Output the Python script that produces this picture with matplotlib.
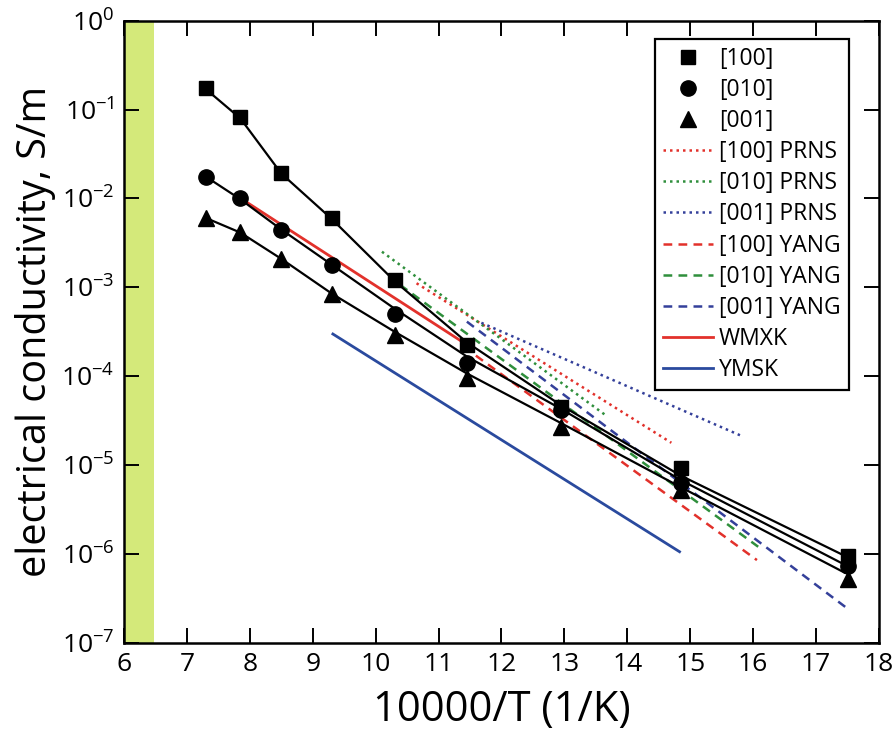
import matplotlib
matplotlib.use("Agg")
import matplotlib.pyplot as plt
import numpy as np

plt.rcParams['font.family'] = ['Open Sans', 'DejaVu Sans']
plt.rcParams['mathtext.fontset'] = 'custom'
plt.rcParams['mathtext.rm'] = 'Open Sans'
plt.rcParams['mathtext.it'] = 'Open Sans'

# measured points (10000/T, S/m)
inv_T = [7.3, 7.85, 8.5, 9.3, 10.3, 11.45, 12.95, 14.85, 17.5]
sig_100 = [0.173, 0.082, 0.0195, 0.0060, 0.00121, 2.24e-4, 4.5e-5, 9.2e-6, 9.5e-7]
sig_010 = [0.0176, 0.0100, 0.0044, 0.0018, 5.0e-4, 1.42e-4, 4.2e-5, 6.2e-6, 7.3e-7]
sig_001 = [0.0060, 0.0042, 0.0021, 8.5e-4, 2.9e-4, 9.5e-5, 2.65e-5, 5.2e-6, 5.2e-7]

# fitted curves through the data (log10 values)
fit_x = [7.3, 7.85, 8.5, 9.3, 10.3, 11.45, 12.95, 14.85, 17.45]
fit_100 = [-0.77, -1.1, -1.72, -2.23, -2.93, -3.62, -4.33, -5.12, -6.02]
fit_010 = [-1.755, -2.01, -2.35, -2.745, -3.24, -3.78, -4.37, -5.17, -6.12]
fit_001 = [-2.22, -2.385, -2.68, -3.07, -3.5, -3.97, -4.53, -5.25, -6.21]

# literature lines: (x start, x end), (log10 start, log10 end)
prns_100 = ([10.65, 14.70], [-2.955, -4.75])
prns_010 = ([10.10, 13.65], [-2.60, -4.437])
prns_001 = ([11.68, 15.79], [-3.40, -4.665])
yang_100 = ([11.40, 16.06], [-3.67, -6.07])
yang_010 = ([10.39, 16.08], [-2.974, -5.92])
yang_001 = ([11.45, 17.47], [-3.387, -6.60])
wmxk = ([7.90, 11.50], [-2.02, -3.67])
ymsk = ([9.32, 14.83], [-3.526, -5.976])

red = '#e2312b'
green = '#2f8f3c'
blue = '#34409a'

fig = plt.figure(figsize=(8.94, 7.38), dpi=100)
ax = fig.add_axes([0.1387, 0.1291, 0.8445, 0.8429])

ax.axvspan(6, 6.47, color='#d4e97a', zorder=0, lw=0)

def pw(a):
    return 10 ** np.asarray(a)

for fy in (fit_100, fit_010, fit_001):
    ax.plot(fit_x, pw(fy), color='black', lw=1.6, zorder=3)

ax.plot(inv_T, sig_100, 's', color='black', ms=10, ls='none', label='[100]', zorder=4)
ax.plot(inv_T, sig_010, 'o', color='black', ms=11, ls='none', label='[010]', zorder=4)
ax.plot(inv_T, sig_001, '^', color='black', ms=11, ls='none', label='[001]', zorder=4)

dot = (0, (1, 1.6))
dash = (0, (3.5, 2.5))
ax.plot(prns_100[0], pw(prns_100[1]), color=red, ls=dot, lw=1.8, label='[100] PRNS', zorder=2)
ax.plot(prns_010[0], pw(prns_010[1]), color=green, ls=dot, lw=1.8, label='[010] PRNS', zorder=2)
ax.plot(prns_001[0], pw(prns_001[1]), color=blue, ls=dot, lw=1.8, label='[001] PRNS', zorder=2)
ax.plot(yang_100[0], pw(yang_100[1]), color=red, ls=dash, lw=1.8, label='[100] YANG', zorder=2)
ax.plot(yang_010[0], pw(yang_010[1]), color=green, ls=dash, lw=1.8, label='[010] YANG', zorder=2)
ax.plot(yang_001[0], pw(yang_001[1]), color=blue, ls=dash, lw=1.8, label='[001] YANG', zorder=2)
ax.plot(wmxk[0], pw(wmxk[1]), color=red, lw=2, label='WMXK', zorder=2)
ax.plot(ymsk[0], pw(ymsk[1]), color='#2a4a9e', lw=2, label='YMSK', zorder=2)

ax.set_yscale('log')
ax.set_xlim(6, 18)
ax.set_ylim(1e-7, 1)
ax.set_xticks(range(6, 19))
ax.set_yticks([10.0 ** k for k in range(-7, 1)])
ax.set_yticklabels([r'$10^{%d}$' % k for k in range(-7, 1)])
ax.yaxis.set_minor_locator(matplotlib.ticker.NullLocator())
ax.tick_params(which='major', direction='in', length=11, width=1.4,
               top=True, right=True, labelsize=19, pad=7)
for s in ax.spines.values():
    s.set_linewidth(1.8)

ax.set_xlabel('10000/T (1/K)', fontsize=30, labelpad=8)
ax.set_ylabel('electrical conductivity, S/m', fontsize=28.5, labelpad=4)

leg = ax.legend(loc='upper right', bbox_to_anchor=(0.960, 0.9706), borderaxespad=0,
                fontsize=16.5, frameon=True, fancybox=False, edgecolor='black',
                framealpha=1, handlelength=2.2, handletextpad=0.25,
                labelspacing=0.31, borderpad=0.35, numpoints=1)
leg.get_frame().set_linewidth(1.6)
leg.set_zorder(5)

fig.savefig('out.png', dpi=100)
